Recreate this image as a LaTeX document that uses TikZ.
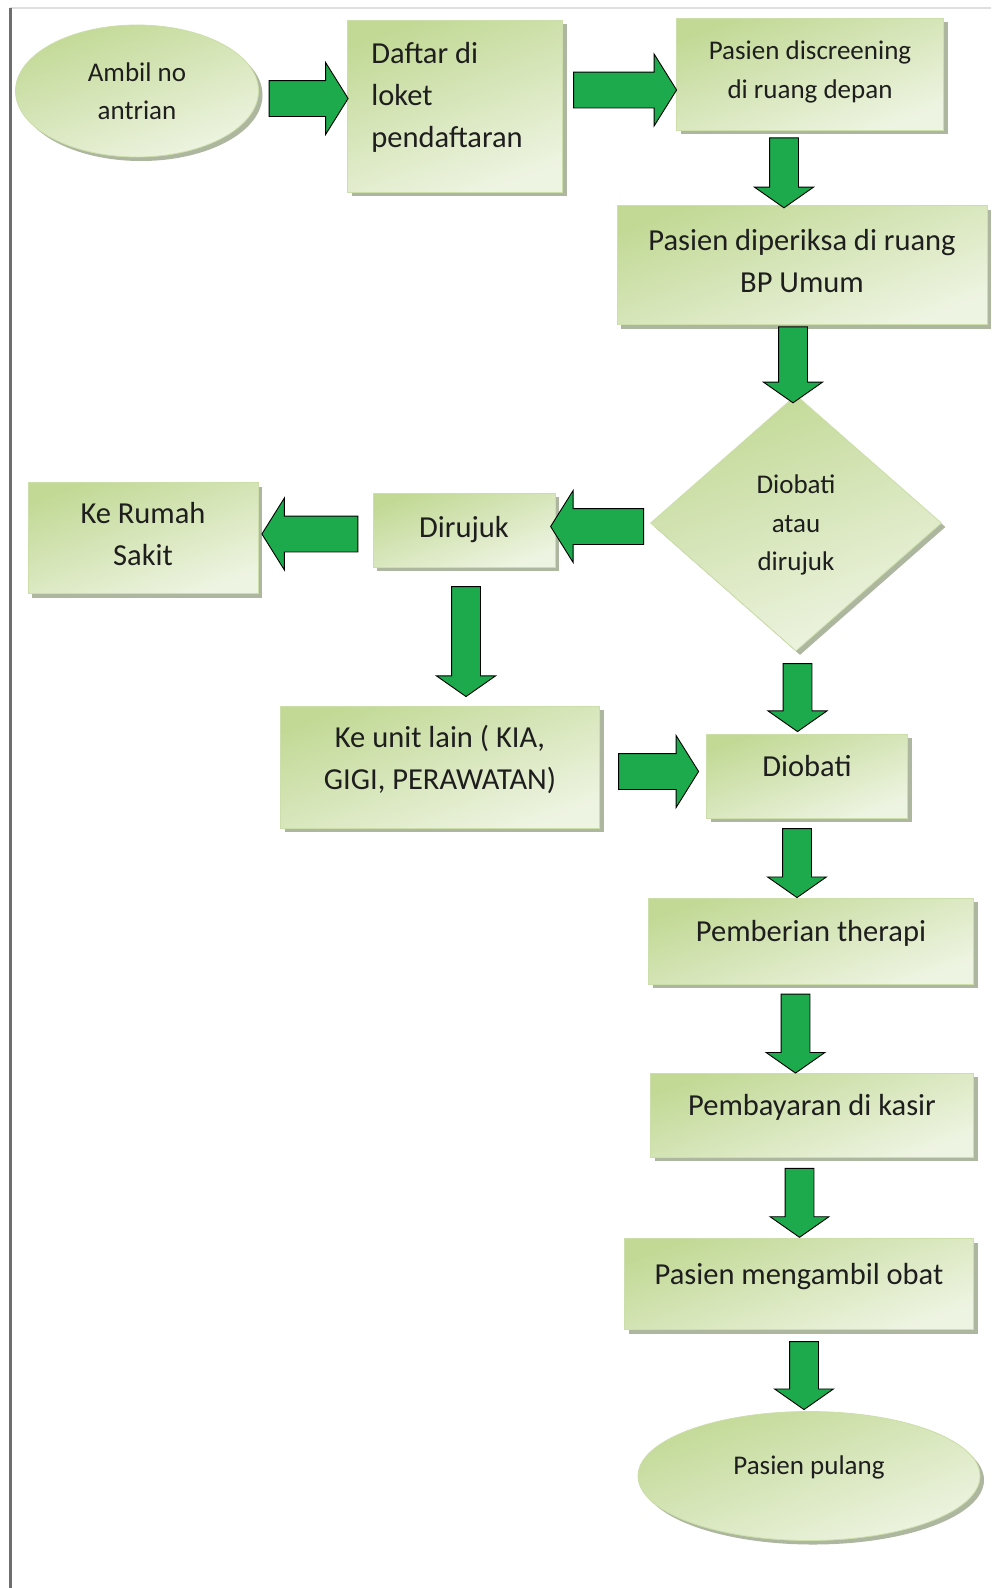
\documentclass[tikz,border=0pt]{standalone}
\usepackage{fontspec}
\setmainfont{Carlito}
\usetikzlibrary{shapes.geometric,shapes.arrows,shadows}

\definecolor{arrowgreen}{HTML}{1DAA4D}
\definecolor{boxdark}{HTML}{C2D996}
\definecolor{boxlight}{HTML}{EEF4E2}
\definecolor{boxedge}{HTML}{CCDEAA}
\definecolor{boxshadow}{HTML}{A4AE93}
\definecolor{textgray}{HTML}{1E1E1E}
\definecolor{pagegray}{HTML}{6E6E6E}

\newcommand{\besar}{\fontsize{30.5}{42}\selectfont}
\newcommand{\kecil}{\fontsize{27}{38.5}\selectfont}

\tikzset{
  isi/.style={draw=boxedge, line width=.8pt, top color=boxdark, bottom color=boxlight,
    shading angle=20, text=textgray, align=center, font=\besar,
    drop shadow={shadow xshift=4pt, shadow yshift=-4pt, fill=boxshadow, opacity=.9}},
  langkah/.style={isi, rectangle},
  satubaris/.style={text height=20pt, text depth=20pt},
  ujung/.style={isi, ellipse, font=\kecil},
  pilihan/.style={isi, diamond, aspect=1.14, font=\kecil},
  arrowh/.style={single arrow, draw=black, line width=.9pt, fill=arrowgreen,
    inner xsep=0pt, inner ysep=17.5pt, single arrow head extend=18pt,
    single arrow tip angle=116},
  arrowv/.style={single arrow, draw=black, line width=.9pt, fill=arrowgreen,
    inner xsep=0pt, inner ysep=14pt, single arrow head extend=15pt,
    single arrow tip angle=110},
  panahkanan/.style={arrowh, minimum height=#1},
  panahkiri/.style={arrowh, rotate=180, minimum height=#1},
  panahbawah/.style={arrowv, rotate=-90, minimum height=#1}
}

\begin{document}
\begin{tikzpicture}[x=1pt,y=-1pt]
\useasboundingbox (0,0) rectangle (991,1588);
% page edges
\draw[gray!25, line width=1.5pt] (10,8) -- (991,8);
\draw[pagegray, line width=3pt] (10,8) -- (10,1588);

\begin{scope}
\node[ujung, minimum width=243, minimum height=132] (ambil) at (137,91) {Ambil no\\antrian};
\node[langkah, align=left, text depth=22pt, minimum width=215, minimum height=172] (daftar) at (455,106) {Daftar di\\loket\\pendaftaran\hspace*{16pt}};
\node[langkah, font=\kecil, text depth=9pt, minimum width=267, minimum height=112] (screen) at (810,74) {Pasien discreening\\di ruang depan};
\node[langkah, text depth=8pt, minimum width=370, minimum height=119] (periksa) at (802,265) {Pasien diperiksa di ruang\\BP Umum};
\node[pilihan, text depth=0pt, minimum width=291, minimum height=256] (keputusan) at (796,523) {Diobati\\atau\\dirujuk};
\node[langkah, minimum width=182, minimum height=74] (dirujuk) at (464,530) {Dirujuk};
\node[langkah, text depth=8pt, minimum width=230, minimum height=111] (rs) at (143,538) {Ke Rumah\\Sakit};
\node[langkah, text depth=20pt, minimum width=319, minimum height=122] (unit) at (440,767) {Ke unit lain ( KIA,\\GIGI, PERAWATAN)};
\node[langkah, satubaris, minimum width=201, minimum height=84] (diobati) at (807,776) {Diobati};
\node[langkah, satubaris, minimum width=325, minimum height=86] (therapi) at (811,941) {Pemberian therapi};
\node[langkah, satubaris, minimum width=323, minimum height=84] (kasir) at (812,1115) {Pembayaran di kasir};
\node[langkah, satubaris, minimum width=349, minimum height=91] (obat) at (799,1284) {Pasien mengambil obat};
\node[ujung, satubaris, text depth=24pt, minimum width=342, minimum height=129] (pulang) at (809,1476) {Pasien pulang};
\end{scope}

\begin{scope}
    \path (ambil.east) -- node[panahkanan=79] {} (daftar.west);
    \path (daftar.east) -- node[panahkanan=103] {} (screen.west);
    \path (screen.south) -- node[xshift=-22pt, panahbawah=70] {} (periksa.north);
    \path (periksa.south) -- node[xshift=-6pt, panahbawah=76] {} (keputusan.north);
    \path (keputusan.west) -- node[panahkiri=93] {} (dirujuk.east);
    \path (dirujuk.west) -- node[panahkiri=96] {} (rs.east);
    \path (dirujuk.south) -- node[xshift=14pt, panahbawah=110] {} (unit.north);
    \path (unit.east) -- node[panahkanan=80] {} (diobati.west);
    \path (keputusan.south) -- node[xshift=-4pt, panahbawah=68] {} (diobati.north);
    \path (diobati.south) -- node[xshift=-12pt, panahbawah=69] {} (therapi.north);
    \path (therapi.south) -- node[xshift=-16pt, panahbawah=79] {} (kasir.north);
    \path (kasir.south) -- node[xshift=-6pt, panahbawah=69] {} (obat.north);
    \path (obat.south) -- node[panahbawah=68] {} (pulang.north);
\end{scope}
\end{tikzpicture}
\end{document}
